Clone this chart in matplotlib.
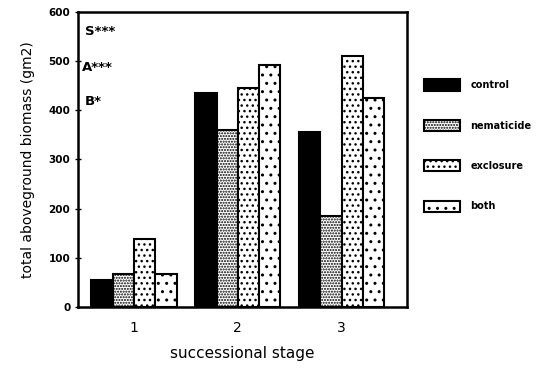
import matplotlib.pyplot as plt
import numpy as np
from matplotlib.patches import Patch

plt.rcParams['font.family'] = ['DejaVu Sans']
plt.rcParams['font.weight'] = 'bold'
plt.rcParams['hatch.linewidth'] = 1.0

stages = ['1', '2', '3']
control = [55, 435, 355]
nematicide = [67, 359, 185]
exclosure = [139, 445, 510]
both = [67, 492, 425]
series = [('control', control, None, 'black'),
          ('nematicide', nematicide, '......', 'white'),
          ('exclosure', exclosure, '...', 'white'),
          ('both', both, '..', 'white')]

fig = plt.figure(figsize=(5.53, 3.72), dpi=100)
ax = fig.add_axes([0.141, 0.175, 0.595, 0.793])

x = np.arange(1, len(stages) + 1)
w = 0.205
handles = []
for i, (name, vals, hatch, fc) in enumerate(series):
    ax.bar(x + (i - 1.5) * w, vals, w, color=fc, edgecolor='black',
           hatch=hatch, linewidth=1.5)
    handles.append(Patch(facecolor=fc, edgecolor='black', hatch=hatch,
                         linewidth=1.5, label=name))

ax.set_xlim(0.46, 3.63)
ax.set_ylim(0, 600)
ax.set_xticks(x)
ax.set_xticklabels(stages, fontsize=10, fontweight='normal')
ax.tick_params(axis='x', length=0, pad=10)
ax.set_yticks(range(0, 601, 100))
ax.tick_params(axis='y', direction='inout', length=4, width=1, labelsize=7.5)
for s in ax.spines.values():
    s.set_linewidth(1.8)

ax.set_xlabel('successional stage', fontsize=11, labelpad=8, fontweight='normal')
ax.set_ylabel('total aboveground biomass (gm2)', fontsize=10, labelpad=10,
              fontweight='normal')

ax.text(0.02, 0.955, 'S***', transform=ax.transAxes, fontsize=9.5,
        fontweight='bold', va='top')
ax.text(0.012, 0.835, 'A***', transform=ax.transAxes, fontsize=9.5,
        fontweight='bold', va='top')
ax.text(0.02, 0.72, 'B*', transform=ax.transAxes, fontsize=9.5,
        fontweight='bold', va='top')

fig.legend(handles=handles, loc='upper left', bbox_to_anchor=(0.75, 0.81),
           frameon=False, prop={'size': 7, 'weight': 'bold'},
           handlelength=3.8, handleheight=1.4,
           labelspacing=3.0, handletextpad=1.0)

fig.savefig('out.png', dpi=100)
